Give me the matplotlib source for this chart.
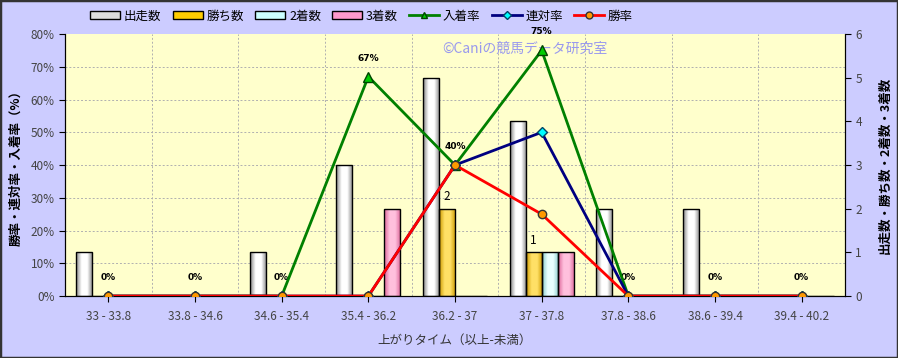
import numpy as np
import matplotlib.pyplot as plt
from matplotlib.patches import Rectangle, Patch
from matplotlib.lines import Line2D
from matplotlib.colors import LinearSegmentedColormap

plt.rcParams['font.family'] = ['Noto Sans CJK JP', 'DejaVu Sans']

categories = ["33 - 33.8", "33.8 - 34.6", "34.6 - 35.4", "35.4 - 36.2", "36.2 - 37",
              "37 - 37.8", "37.8 - 38.6", "38.6 - 39.4", "39.4 - 40.2"]
runs = [1, 0, 1, 3, 5, 4, 2, 2, 0]
wins = [0, 0, 0, 0, 2, 1, 0, 0, 0]
seconds = [0, 0, 0, 0, 0, 1, 0, 0, 0]
thirds = [0, 0, 0, 2, 0, 1, 0, 0, 0]
place_rate = [0, 0, 0, 67, 40, 75, 0, 0, 0]
top2_rate = [0, 0, 0, 0, 40, 50, 0, 0, 0]
win_rate = [0, 0, 0, 0, 40, 25, 0, 0, 0]

fig = plt.figure(figsize=(8.98, 3.58), dpi=100, facecolor="#CCCCFF")
ax = fig.add_axes([0.0724, 0.173, 0.8686, 0.732])
ax2 = ax.twinx()

x = np.arange(len(categories))
w = 0.185
bar_sets = [
    (runs, -1.5, "#FFFFFF", "#888888", "#DDDDDD", "出走数"),
    (wins, -0.5, "#FFE066", "#CC9900", "#FFCC00", "勝ち数"),
    (seconds, 0.5, "#E8FFFF", "#88CCCC", "#CCFFFF", "2着数"),
    (thirds, 1.5, "#FFC0DD", "#DD6699", "#FF99CC", "3着数"),
]

# count bars on ax (ticks moved to right later), gradient fill
grad = np.linspace(0, 1, 64).reshape(1, -1)
for vals, off, light, dark, _, name in bar_sets:
    cmap = LinearSegmentedColormap.from_list(name, [dark, light, light, dark])
    bars = ax.bar(x + off * w, vals, w, color="none", edgecolor="black", linewidth=1.0, zorder=3)
    for b, v in zip(bars, vals):
        if v <= 0:
            continue
        im = ax.imshow(grad, cmap=cmap, aspect="auto", zorder=2,
                       extent=[b.get_x(), b.get_x() + b.get_width(), 0, v])
        im.set_clip_path(b)

ax.set_xlim(-0.5, len(categories) - 0.5)
ax.set_ylim(0, 6)
ax.set_facecolor("#FFFFCC")
ax.yaxis.tick_right()
ax.yaxis.set_label_position("right")
ax.set_yticks(range(0, 7))
ax.set_ylabel("出走数・勝ち数・2着数・3着数", fontsize=9, fontweight="bold", rotation=90, labelpad=12)

# count labels on the winning bars
for i, v in enumerate(wins):
    if v > 0:
        ax.text(x[i] - 0.5 * w, v + 0.12, str(v), ha="center", va="bottom", fontsize=8.5, zorder=6)

# rate lines on ax2 (ticks moved to left)
ax2.plot(x, place_rate, color="#008000", lw=2, marker="^", ms=7, mfc="#00CC00", mec="#004400", zorder=4)
ax2.plot(x, top2_rate, color="#000080", lw=2, marker="D", ms=5, mfc="#00FFFF", mec="#004466", zorder=5)
ax2.plot(x, win_rate, color="#FF0000", lw=2, marker="o", ms=6, mfc="#FF9900", mec="#333333", zorder=6)
for i, v in enumerate(place_rate):
    ax2.annotate(f"{v}%", (x[i], v), xytext=(0, 10), textcoords="offset points",
                 ha="center", va="bottom", fontsize=6.5, fontweight="bold", family="DejaVu Sans")
ax2.set_ylim(0, 80)
ax2.yaxis.tick_left()
ax2.yaxis.set_label_position("left")
ax2.set_yticks(range(0, 81, 10))
ax2.set_yticklabels([f"{t}%" for t in range(0, 81, 10)])
ax2.set_ylabel("勝率・連対率・入着率（%）", fontsize=9, fontweight="bold", labelpad=6)
ax2.patch.set_visible(False)

# grid
for t in range(10, 80, 10):
    ax.axhline(t * 6 / 80, color="#B0B0B0", lw=0.7, ls=(0, (2, 2)), zorder=1)
for b in np.arange(0.5, len(categories) - 0.5, 1):
    ax.axvline(b, color="#B0B0B0", lw=0.7, ls=(0, (2, 2)), zorder=1)

ax.set_xticks(x)
ax.set_xticklabels(categories)
ax.tick_params(axis="x", length=0, pad=6)
ax.set_xlabel("上がりタイム（以上-未満）", fontsize=9, labelpad=8, color="#333333")
for a in (ax, ax2):
    a.tick_params(labelsize=8.5, labelcolor="#444444", length=4)
    a.spines["top"].set_visible(False)

ax.text(0.483, 0.945, "©Caniの競馬データ研究室", transform=ax.transAxes, fontsize=10,
        color="#9999EE", zorder=7, va="center")

handles = [Patch(facecolor=c, edgecolor="black", label=n) for _, _, _, _, c, n in bar_sets]
handles += [
    Line2D([], [], color="#008000", lw=2, marker="^", ms=5, mfc="#00CC00", mec="#004400", label="入着率"),
    Line2D([], [], color="#000080", lw=2, marker="D", ms=4, mfc="#00FFFF", mec="#004466", label="連対率"),
    Line2D([], [], color="#FF0000", lw=2, marker="o", ms=5, mfc="#FF9900", mec="#333333", label="勝率"),
]
fig.legend(handles=handles, loc="center left", bbox_to_anchor=(0.088, 0.955), ncol=7, frameon=False,
           fontsize=9, handlelength=2.4, handleheight=0.6, columnspacing=0.9, handletextpad=0.3)

fig.patches.append(Rectangle((0, 0), 1, 1, transform=fig.transFigure, fill=False,
                             edgecolor="#333333", lw=2.5))

fig.savefig("out.png", dpi=100, facecolor=fig.get_facecolor())
